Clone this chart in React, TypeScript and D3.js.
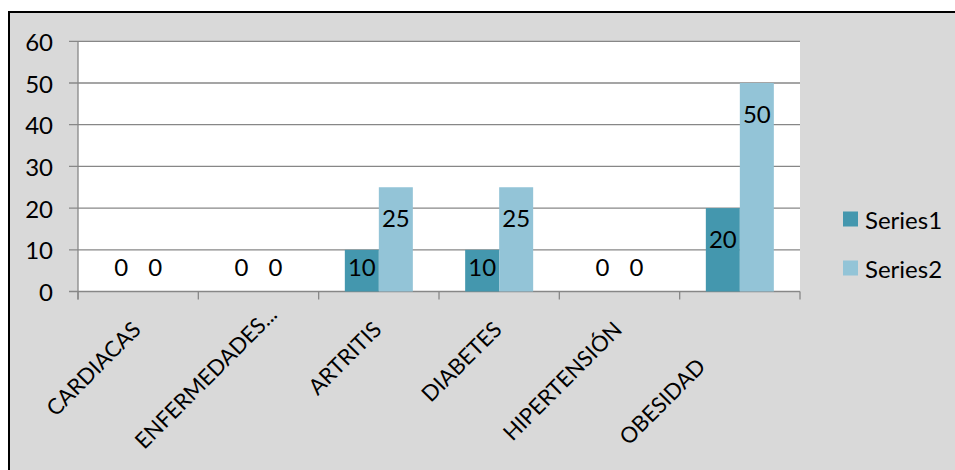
import React from "react";
import * as d3 from "d3";

const categories = ["CARDIACAS", "ENFERMEDADES...", "ARTRITIS", "DIABETES", "HIPERTENSIÓN", "OBESIDAD"];
const series1 = [0, 0, 10, 10, 0, 20];
const series2 = [0, 0, 25, 25, 0, 50];
const seriesNames = ["Series1", "Series2"];
const yTicks = [0, 10, 20, 30, 40, 50, 60];

const W = 955;
const H = 470;
const FONT = "Lato, 'Open Sans', sans-serif";
const COLORS = ["#4497ae", "#93c4d7"];
const GRID = "#878787";

// Category label nudges (dx, dy) for labels the layout shifts off their tick
const labelNudge: Record<string, [number, number]> = {
  "ENFERMEDADES...": [16, -15],
  OBESIDAD: [-37, 37],
};

export default function App() {
  const plot = { left: 78, right: 800, top: 41.3, bottom: 291.5 };

  const x = d3.scaleBand<string>().domain(categories).range([plot.left, plot.right]).padding(0);
  const step = x.step();
  const barW = 34;
  const inner = d3
    .scaleBand<number>()
    .domain([0, 1])
    .range([step / 2 - barW, step / 2 + barW])
    .padding(0);
  const y = d3.scaleLinear().domain([0, 60]).range([plot.bottom, plot.top]);

  const seriesData = [series1, series2];
  const boundaries = d3.range(categories.length + 1).map((i) => plot.left + i * step);

  return (
    <svg
      width={W}
      height={H}
      style={{ position: "absolute", left: 0, top: 0, display: "block" }}
      fontFamily={FONT}
    >
      <rect x={0} y={0} width={W} height={H} fill="#ffffff" />
      <rect x={9} y={12} width={W + 20} height={H + 20} fill="#d9d9d9" stroke="#000" strokeWidth={2} />

      {/* plot area */}
      <rect x={plot.left} y={plot.top} width={plot.right - plot.left} height={plot.bottom - plot.top} fill="#fff" />

      {/* gridlines and y ticks */}
      {yTicks.map((t) => (
        <g key={t}>
          <line x1={69} x2={plot.right} y1={y(t)} y2={y(t)} stroke={GRID} strokeWidth={1.3} />
          <text x={53} y={y(t)} textAnchor="end" dominantBaseline="central" fontSize={24} fill="#000">
            {t}
          </text>
        </g>
      ))}
      <line x1={plot.left} x2={plot.left} y1={plot.top} y2={plot.bottom + 8} stroke={GRID} strokeWidth={1.3} />

      {/* category ticks */}
      {boundaries.map((bx, i) => (
        <line key={i} x1={bx} x2={bx} y1={plot.bottom} y2={plot.bottom + 8} stroke={GRID} strokeWidth={1.3} />
      ))}

      {/* bars */}
      {seriesData.map((vals, s) =>
        vals.map((v, i) => {
          const bx = (x(categories[i]) ?? 0) + (inner(s) ?? 0);
          return (
            <rect
              key={`${s}-${i}`}
              x={bx}
              y={y(v)}
              width={inner.bandwidth()}
              height={y(0) - y(v)}
              fill={COLORS[s]}
            />
          );
        })
      )}

      {/* value labels */}
      {seriesData.map((vals, s) =>
        vals.map((v, i) => {
          const cx = (x(categories[i]) ?? 0) + (inner(s) ?? 0) + inner.bandwidth() / 2;
          const cy = Math.min(y(v) + 30, y(0) - 25.5);
          return (
            <text
              key={`l${s}-${i}`}
              x={cx}
              y={cy}
              textAnchor="middle"
              dominantBaseline="central"
              fontSize={24}
              fill="#000"
            >
              {v}
            </text>
          );
        })
      )}

      {/* category labels */}
      {categories.map((c) => {
        const [dx, dy] = labelNudge[c] ?? [0, 0];
        const px = (x(c) ?? 0) + step / 2 + 4 + dx;
        const py = plot.bottom + 39.5 + dy;
        return (
          <text
            key={c}
            transform={`translate(${px},${py}) rotate(-45)`}
            textAnchor="end"
            fontSize={22}
            fill="#000"
          >
            {c}
          </text>
        );
      })}

      {/* legend */}
      {seriesNames.map((name, s) => {
        const ly = 219 + s * 49;
        return (
          <g key={name}>
            <rect x={843} y={ly - 7.5} width={15} height={15} fill={COLORS[s]} />
            <text x={865} y={ly} dominantBaseline="central" fontSize={24} fill="#000">
              {name}
            </text>
          </g>
        );
      })}
    </svg>
  );
}
